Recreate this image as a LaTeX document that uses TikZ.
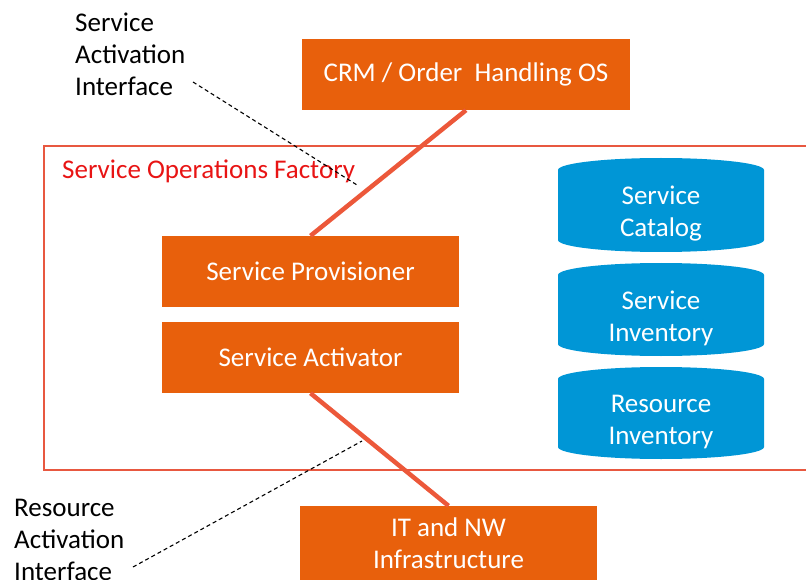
\documentclass[tikz,border=0pt]{standalone}
\usepackage{fontspec}
\setmainfont{Carlito}
\definecolor{boxorange}{RGB}{232,96,12}
\definecolor{linkred}{RGB}{236,88,58}
\definecolor{framered}{RGB}{232,88,64}
\definecolor{titlered}{RGB}{232,20,20}
\definecolor{storeblue}{RGB}{0,150,214}
\newcommand{\bigtext}{\fontsize{27}{32}\selectfont}
\tikzset{
  x=1pt, y=-1pt,
  block/.style={fill=boxorange, draw=none, text=white, font=\bigtext,
    minimum width=#1, align=center, inner sep=0pt},
  block/.default=297pt,
  link/.style={draw=linkred, line width=4.5pt},
  callout/.style={draw=black, line width=1.1pt, dash pattern=on 4pt off 3pt},
  note/.style={font=\bigtext, align=left, anchor=north west, inner sep=0pt},
  store/.style={fill=storeblue, draw=none},
  storetext/.style={text=white, font=\bigtext, align=center, inner sep=0pt}
}
\begin{document}
\begin{tikzpicture}
\useasboundingbox (0,0) rectangle (806,580);
\clip (0,0) rectangle (806,580);

% factory frame (right side runs off the page)
\draw[framered, line width=2.5pt] (820,146) -- (44,146) -- (44,470) -- (820,470);
\node[anchor=west, text=titlered, font=\bigtext, inner sep=0pt] (title) at (62,171) {Service Operations Factory};

% orange blocks
\node[block=328pt, minimum height=71pt] (crm) at (466,74.5) {CRM / Order\ \ Handling OS};
\node[block, minimum height=71pt] (sp) at (310.5,271.5) {Service Provisioner};
\node[block, minimum height=71pt] (sa) at (310.5,357.5) {Service Activator};
\node[block, minimum height=74pt] (it) at (448.5,543) {IT and NW\\Infrastructure};

% data stores: flat sides, convex top and bottom
\foreach \name/\top/\bot/\txt in {sc/170/240/{Service\\Catalog}, si/275/344/{Service\\Inventory}, ri/379/447/{Resource\\Inventory}} {
  \fill[store] (558,\top) arc[start angle=180, end angle=360, x radius=103, y radius=12]
    -- (764,\bot) arc[start angle=0, end angle=180, x radius=103, y radius=12] -- cycle;
  \node[storetext] (\name) at (661,{(\top+\bot)/2+9}) {\txt};
}

% interface links
\draw[link] (crm.south) -- (sp.north);
\draw[link] (sa.south) -- (it.north);

% interface notes
\node[note] (sai) at (75,13) {Service\\Activation\\Interface};
\node[note] (rai) at (14,499) {Resource\\Activation\\Interface};
\coordinate (saistart) at (193,82);
\coordinate (saiend) at (357,185);
\coordinate (raistart) at (133,567);
\coordinate (raiend) at (362,441);
\draw[callout] (saistart) -- (saiend);
\draw[callout] (raistart) -- (raiend);
\end{tikzpicture}
\end{document}
